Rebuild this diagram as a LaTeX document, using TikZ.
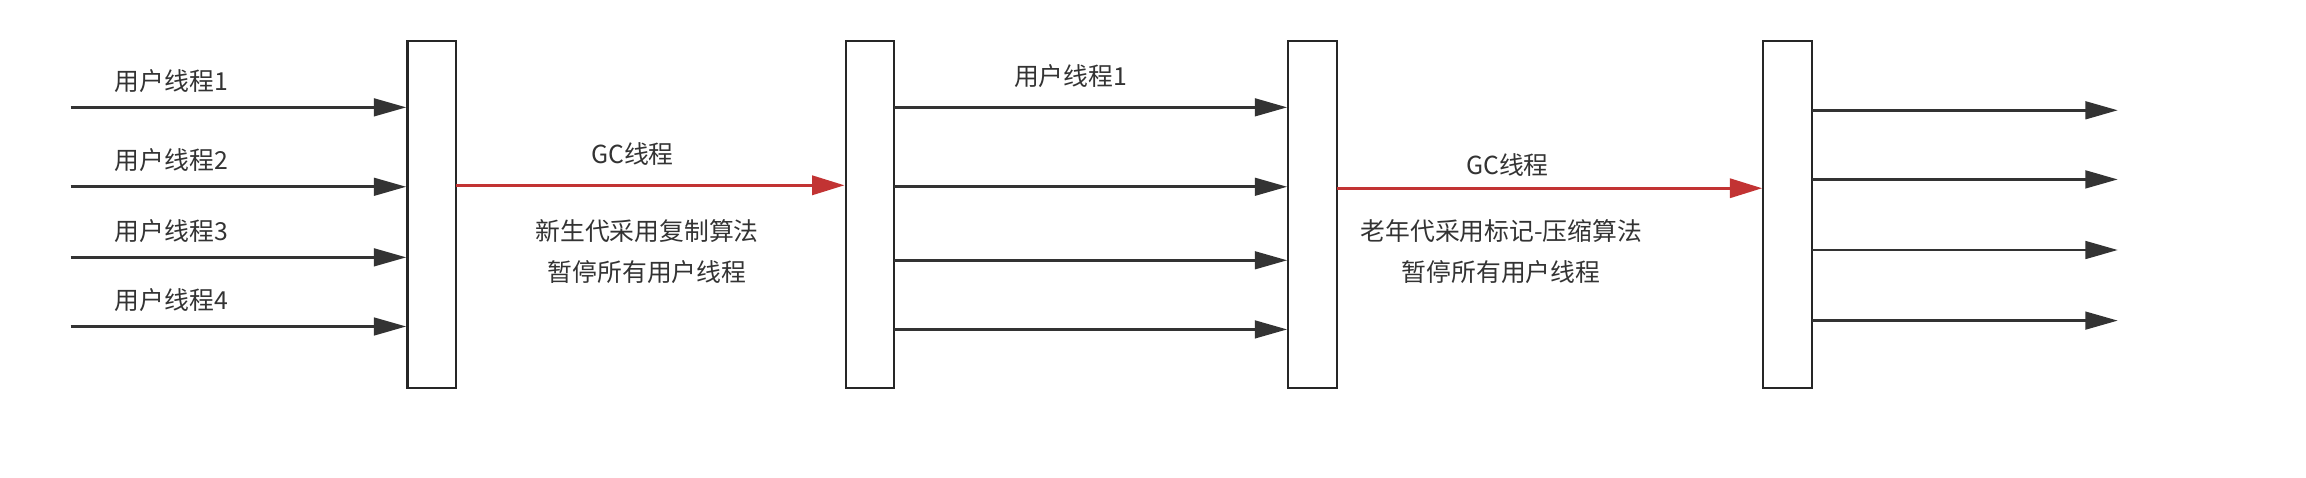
\documentclass[tikz,border=0pt]{standalone}
\usepackage{fontspec}
\setmainfont{Noto Sans CJK SC}
\usetikzlibrary{arrows.meta}
\begin{document}
\begin{tikzpicture}[x=0.05cm,y=-0.05cm,
  bar/.style={draw=black!85,line width=2.2pt,fill=white,minimum width=1.65cm,minimum height=11.8cm,inner sep=0},
  arr/.style={draw=black!80,line width=2.5pt,-{Triangle[length=1.1cm,width=0.6cm]}},
  red/.style={draw=red!70!black!80,line width=3pt,-{Triangle[length=1.1cm,width=0.65cm]}},
  lbl/.style={font=\fontsize{24}{28}\selectfont,text=black!80,inner sep=0}]
\useasboundingbox (0,0) rectangle (1568,325);
\node[bar] (b1) at (293.5,146) {};
\node[bar] (b2) at (591.5,146) {};
\node[bar] (b3) at (892.5,146) {};
\node[bar] (b4) at (1215.5,146) {};
\foreach \y/\t [count=\i] in {73/1,127/2,175/3,222/4}{
  \coordinate (l\i) at (48,\y);
  \draw[arr] (l\i) -- (l\i -| b1.west);
  \node[lbl,anchor=west] (lt\i) at (78,\y-18) {用户线程\t};
}
\foreach \y [count=\i] in {73,127,177,224}{
  \coordinate (m\i) at (608,\y);
  \draw[arr] (m\i) -- (m\i -| b3.west);
}
\node[lbl] (mt) at (728,52) {用户线程1};
\foreach \y [count=\i] in {75,122,170,218}{
  \coordinate (r\i) at (1232,\y);
  \coordinate (re\i) at (1440,\y);
  \draw[arr] (r\i) -- (re\i);
}
\coordinate (ga) at (310,126);
\draw[red] (ga) -- (ga -| b2.west);
\node[lbl] (g1) at (430,105) {GC线程};
\node[lbl] (g1a) at (440,157) {新生代采用复制算法};
\node[lbl] (g1b) at (440,185) {暂停所有用户线程};
\coordinate (gb) at (909,128);
\draw[red] (gb) -- (gb -| b4.west);
\node[lbl] (g2) at (1025,112) {GC线程};
\node[lbl,anchor=west] (g2a) at (925,157) {老年代采用标记-压缩算法};
\node[lbl,anchor=west] (g2b) at (953,185) {暂停所有用户线程};
\end{tikzpicture}
\end{document}
